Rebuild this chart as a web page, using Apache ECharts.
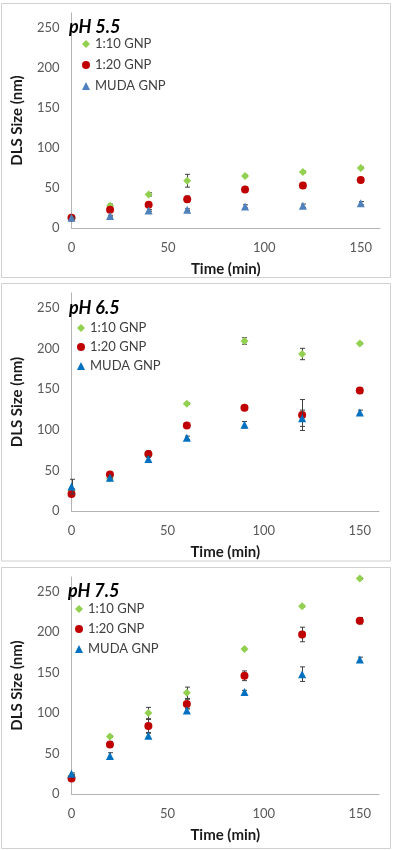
<!DOCTYPE html>
<html><head><meta charset="utf-8">
<script src="https://cdn.jsdelivr.net/npm/echarts@6/dist/echarts.min.js"></script>
<style>
html,body{margin:0;padding:0;background:#fff;width:400px;height:850px;overflow:hidden}
.p{position:absolute;left:0;width:400px}
</style></head>
<body>
<div id="c1" class="p" style="top:0;height:283px"></div>
<div id="c2" class="p" style="top:283px;height:284px"></div>
<div id="c3" class="p" style="top:567px;height:283px"></div>
<script>
// ---- data ----
const times = [0, 20, 40, 60, 90, 120, 150];
const seriesNames = ['1:10 GNP', '1:20 GNP', 'MUDA GNP'];
const panelTitles = ['pH 5.5', 'pH 6.5', 'pH 7.5'];
const xAxisTitle = 'Time (min)';
const yAxisTitle = 'DLS Size (nm)';

const ph55_gnp10 = [13, 28, 42, 59, 65, 70, 75];
const ph55_gnp10_err = [1, 2, 2, 8, 1, 1, 1];
const ph55_gnp20 = [13, 23, 29, 36, 48, 53, 60];
const ph55_gnp20_err = [1, 2, 2, 4, 3, 3, 2];
const ph55_muda = [13, 15, 22, 23, 27, 28, 31];
const ph55_muda_err = [1, 1, 1, 1, 2, 2, 2];

const ph65_gnp10 = [25, 40, 70, 132, 209, 193, 206];
const ph65_gnp10_err = [2, 2, 4, 1, 4, 7, 1];
const ph65_gnp20 = [21, 45, 70, 105, 127, 118, 148];
const ph65_gnp20_err = [1, 2, 3, 2, 1, 19, 3];
const ph65_muda = [30, 41, 64, 90, 106, 114, 121];
const ph65_muda_err = [9, 2, 3, 2, 4, 10, 3];

const ph75_gnp10 = [22, 71, 100, 125, 179, 232, 266];
const ph75_gnp10_err = [1, 1, 7, 7, 1, 1, 1];
const ph75_gnp20 = [19, 61, 84, 111, 146, 197, 214];
const ph75_gnp20_err = [1, 3, 8, 6, 6, 9, 4];
const ph75_muda = [25, 47, 72, 103, 126, 148, 166];
const ph75_muda_err = [1, 4, 3, 3, 2, 9, 3];

const xMin = 0, xMax = 160, xInterval = 50;
const yMin = 0, yMax = 268, yInterval = 50;

// ---- styling / layout ----
const FONT = 'Lato, "Open Sans", sans-serif';
const symbols = ['diamond', 'circle', 'triangle'];
const symbolSizes = [8, 8, 8];
const panels = [
  { el: 'c1', values: [ph55_gnp10, ph55_gnp20, ph55_muda], errs: [ph55_gnp10_err, ph55_gnp20_err, ph55_muda_err],
    colors: ['#92D050', '#C00000', '#4F81BD'],
    border: [1.5, 3.5, 389, 274], grid: { left: 63, top: 13, width: 317, height: 216 },
    title: { left: 69, top: 17 }, legend: { left: 82, top: 37, itemGap: 7 } },
  { el: 'c2', values: [ph65_gnp10, ph65_gnp20, ph65_muda], errs: [ph65_gnp10_err, ph65_gnp20_err, ph65_muda_err],
    colors: ['#92D050', '#C00000', '#0070C0'],
    border: [1.5, 0.5, 389, 277.5], grid: { left: 63, top: 10, width: 316, height: 218 },
    title: { left: 69, top: 15 }, legend: { left: 77, top: 38, itemGap: 5 } },
  { el: 'c3', values: [ph75_gnp10, ph75_gnp20, ph75_muda], errs: [ph75_gnp10_err, ph75_gnp20_err, ph75_muda_err],
    colors: ['#92D050', '#C00000', '#0070C0'],
    border: [1.5, 0.5, 389, 281], grid: { left: 62, top: 10, width: 317, height: 217 },
    title: { left: 68, top: 14 }, legend: { left: 75, top: 35, itemGap: 6 } }
];

function errRender(params, api) {
  const x = api.value(0), y = api.value(1), e = api.value(2);
  const t = api.coord([x, y + e]);
  const b = api.coord([x, y - e]);
  const cx = Math.round(t[0]) + 0.5;
  const w = 2.5;
  const st = { stroke: '#404040', lineWidth: 1 };
  return { type: 'group', children: [
    { type: 'line', shape: { x1: cx, y1: t[1], x2: cx, y2: b[1] }, style: st },
    { type: 'line', shape: { x1: cx - w, y1: t[1], x2: cx + w, y2: t[1] }, style: st },
    { type: 'line', shape: { x1: cx - w, y1: b[1], x2: cx + w, y2: b[1] }, style: st }
  ]};
}

panels.forEach((p, pi) => {
  const chart = echarts.init(document.getElementById(p.el), null, { renderer: 'canvas' });
  const series = [];
  seriesNames.forEach((name, si) => {
    series.push({
      name: name + ' err', type: 'custom', renderItem: errRender, silent: true,
      data: times.map((t, i) => [t, p.values[si][i], p.errs[si][i]]), z: 2 + si * 2
    });
    series.push({
      name: name, type: 'scatter', symbol: symbols[si], symbolSize: symbolSizes[si],
      itemStyle: { color: p.colors[si], opacity: 1 },
      data: times.map((t, i) => [t, p.values[si][i]]), z: 3 + si * 2
    });
  });
  chart.setOption({
    animation: false,
    backgroundColor: '#fff',
    textStyle: { fontFamily: FONT },
    graphic: [{ type: 'rect', shape: { x: p.border[0], y: p.border[1], width: p.border[2], height: p.border[3] },
      style: { fill: 'none', stroke: '#d0d0d0', lineWidth: 1 }, silent: true, z: -1 }],
    title: { text: panelTitles[pi], left: p.title.left, top: p.title.top, padding: 0,
      textStyle: { fontFamily: FONT, fontSize: 18, fontWeight: 'bold', fontStyle: 'italic', color: '#000', lineHeight: 20 } },
    legend: { data: seriesNames, orient: 'vertical', left: p.legend.left, top: p.legend.top, padding: 0,
      itemGap: p.legend.itemGap, itemWidth: 8, itemHeight: 8, selectedMode: false,
      textStyle: { fontFamily: FONT, fontSize: 13, color: '#404040', lineHeight: 14 } },
    grid: { left: p.grid.left, top: p.grid.top, width: p.grid.width, height: p.grid.height, containLabel: false },
    xAxis: {
      type: 'value', min: xMin, max: xMax, interval: xInterval,
      name: xAxisTitle, nameLocation: 'middle', nameGap: 30,
      nameTextStyle: { fontFamily: FONT, fontSize: 15, fontWeight: 'bold', color: '#1a1a1a', lineHeight: 18 },
      axisLine: { show: true, onZero: false, lineStyle: { color: '#b3b3b3', width: 1 } },
      axisTick: { show: false }, splitLine: { show: false },
      axisLabel: { margin: 13, fontFamily: FONT, fontSize: 13, color: '#595959', lineHeight: 14,
        showMaxLabel: false, formatter: v => (v % xInterval === 0 ? String(v) : '') }
    },
    yAxis: {
      type: 'value', min: yMin, max: yMax, interval: yInterval,
      name: yAxisTitle, nameLocation: 'middle', nameGap: 36,
      nameTextStyle: { fontFamily: FONT, fontSize: 15, fontWeight: 'bold', color: '#1a1a1a', lineHeight: 18 },
      axisLine: { show: true, onZero: false, lineStyle: { color: '#b3b3b3', width: 1 } },
      axisTick: { show: false }, splitLine: { show: false },
      axisLabel: { margin: 12, fontFamily: FONT, fontSize: 13, color: '#595959',
        showMaxLabel: false, formatter: v => (v % yInterval === 0 ? String(v) : '') }
    },
    series: series
  });
});
</script>
</body></html>
